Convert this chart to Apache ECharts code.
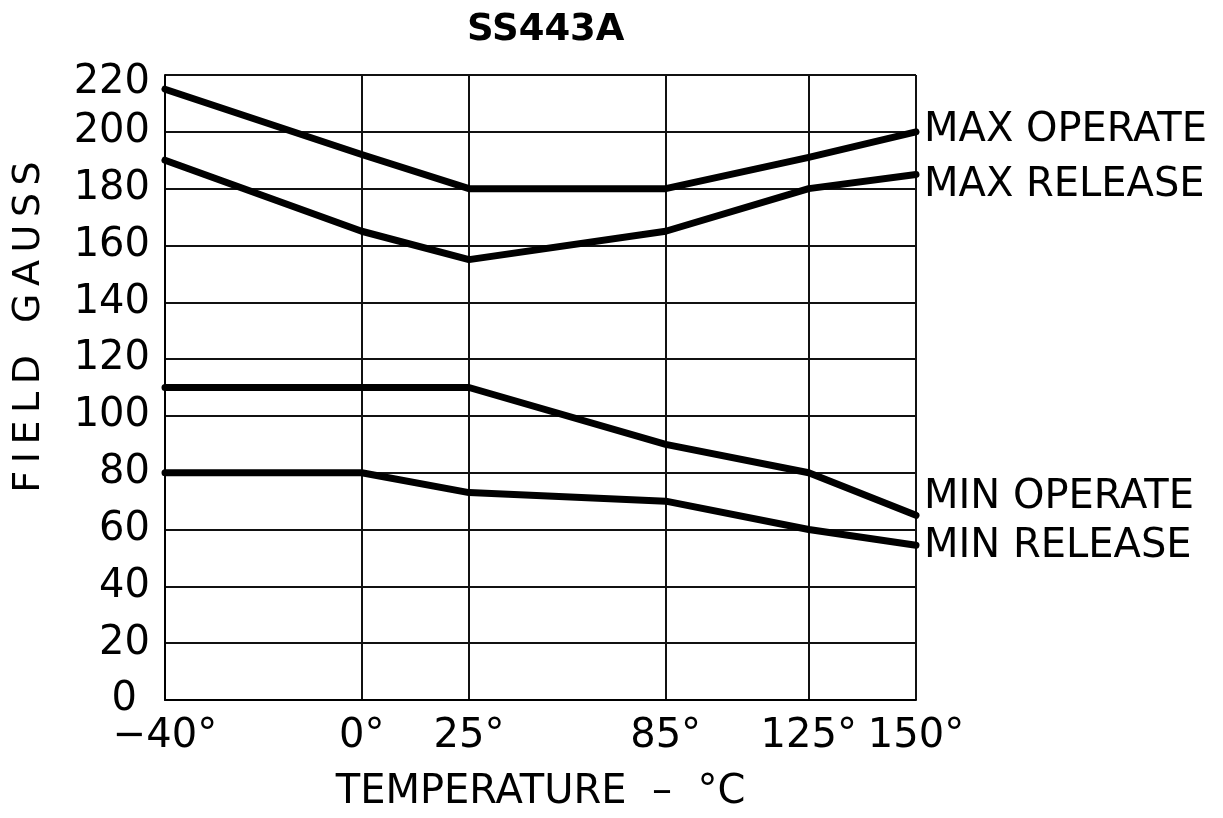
<!DOCTYPE html>
<html>
<head>
<meta charset="utf-8">
<script src="https://cdn.jsdelivr.net/npm/echarts@6/dist/echarts.min.js"></script>
<style>
html,body{margin:0;padding:0;background:#fff;}
#chart{width:1223px;height:818px;}
</style>
</head>
<body>
<div id="chart"></div>
<script>
// ---- data ----
const temps = [-40, 0, 25, 85, 125, 150];
const tempLabels = ['\u221240\u00b0', '0\u00b0', '25\u00b0', '85\u00b0', '125\u00b0', '150\u00b0'];
// relative spacing of the temperature gridlines on the printed (non-linear) axis
const tempScale = [0, 11, 17, 28, 36, 42];
const maxOperate = [215, 192, 180, 180, 191, 200];
const maxRelease = [190, 165, 155, 165, 180, 185];
const minOperate = [110, 110, 110, 90, 80, 65];
const minRelease = [80, 80, 73, 70, 60, 54.5];
const seriesNames = ['MAX OPERATE', 'MAX RELEASE', 'MIN OPERATE', 'MIN RELEASE'];
const yMin = 0, yMax = 220, yStep = 20;

function axisPos(t) {
  for (let i = 0; i < temps.length - 1; i++) {
    if (t >= temps[i] && t <= temps[i + 1]) {
      return tempScale[i] + (t - temps[i]) / (temps[i + 1] - temps[i]) * (tempScale[i + 1] - tempScale[i]);
    }
  }
  return t < temps[0] ? tempScale[0] : tempScale[tempScale.length - 1];
}
function toPoints(vals) { return temps.map((t, i) => [axisPos(t), vals[i]]); }

const FONT = 'DejaVu Sans';
const chart = echarts.init(document.getElementById('chart'), null, {renderer: 'canvas'});
const labelOffsets = [[0, -1], [0, 11], [0, -18], [0, 1]];
const allVals = [maxOperate, maxRelease, minOperate, minRelease];

chart.setOption({
  animation: false,
  backgroundColor: '#fff',
  title: {
    text: 'SS443A',
    left: 467, top: 12,
    padding: 0,
    textStyle: {fontFamily: FONT, fontWeight: 'bold', fontSize: 37, color: '#000'}
  },
  grid: {left: 165, right: 307, top: 75, bottom: 118, containLabel: false},
  xAxis: {
    type: 'value', min: tempScale[0], max: tempScale[tempScale.length - 1],
    name: 'TEMPERATURE  \u2013  \u00b0C',
    nameLocation: 'middle', nameGap: 73,
    nameTextStyle: {fontFamily: FONT, fontSize: 40, color: '#000'},
    axisLine: {show: true, lineStyle: {color: '#000', width: 2}},
    axisTick: {show: false, customValues: tempScale},
    axisLabel: {
      customValues: tempScale,
      formatter: v => tempLabels[tempScale.indexOf(v)],
      fontFamily: FONT, fontSize: 40, color: '#000', margin: 17
    },
    splitLine: {show: true, lineStyle: {color: '#111', width: 2}}
  },
  yAxis: {
    type: 'value', min: yMin, max: yMax, interval: yStep,
    axisLine: {show: true, lineStyle: {color: '#000', width: 2}},
    axisTick: {show: false},
    axisLabel: {
      fontFamily: FONT, fontSize: 40, color: '#000', margin: 15,
      formatter: v => v === yMax ? '{top|' + v + '}' : (v === yMin ? '{zero|' + v + '}' : String(v)),
      rich: {
        top: {fontFamily: FONT, fontSize: 40, color: '#000', padding: [16, 0, 0, 0]},
        zero: {fontFamily: FONT, fontSize: 40, color: '#000', padding: [0, 13, 0, 0]}
      }
    },
    splitLine: {show: true, lineStyle: {color: '#111', width: 2}}
  },
  graphic: [{
    type: 'text',
    x: 29, y: 327, rotation: Math.PI / 2,
    style: {
      text: 'F\u2009I\u2009E\u2009L\u2009D\u2009  G\u2009A\u2009U\u2009S\u2009S',
      font: '38px "DejaVu Sans"', fill: '#000', align: 'center', verticalAlign: 'middle'
    }
  }],
  series: seriesNames.map((name, k) => ({
    name: name,
    type: 'line',
    data: toPoints(allVals[k]),
    symbol: 'none',
    clip: false,
    lineStyle: {color: '#000', width: 7, join: 'round', cap: 'round'},
    endLabel: {
      show: true, formatter: name, distance: 8, offset: labelOffsets[k],
      fontFamily: FONT, fontSize: 40, color: '#000'
    }
  }))
});
</script>
</body>
</html>
